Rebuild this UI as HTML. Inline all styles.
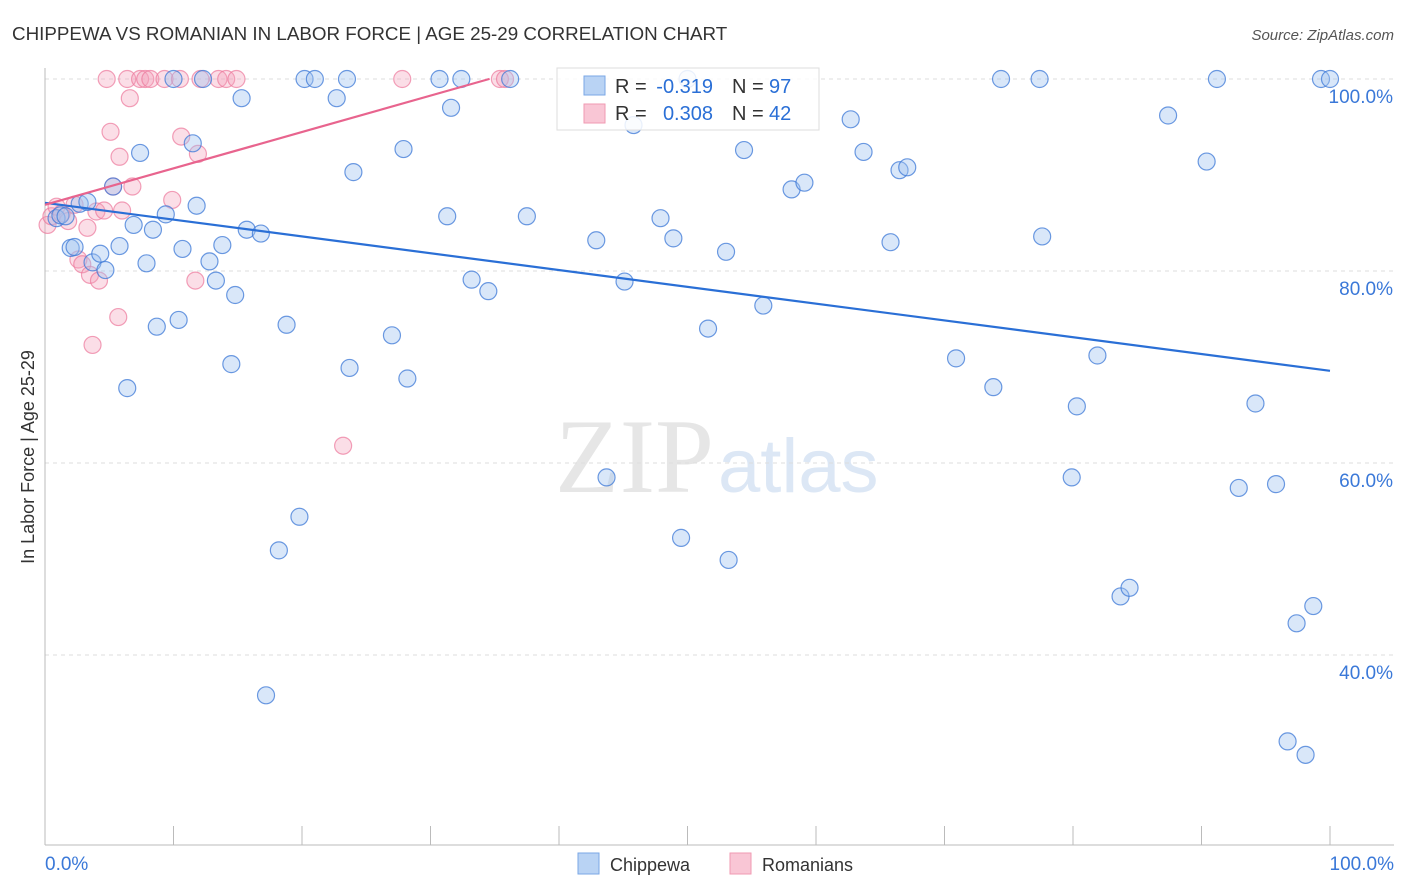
<!DOCTYPE html>
<html><head><meta charset="utf-8"><style>
body{margin:0;background:#fff;font-family:"Liberation Sans",sans-serif}
svg{display:block}
</style></head><body>
<svg id="chart" width="1406" height="892">
<text x="12" y="40" font-size="18.8" fill="#333">CHIPPEWA VS ROMANIAN IN LABOR FORCE | AGE 25-29 CORRELATION CHART</text>
<text x="1394" y="40" font-size="15" fill="#555" font-style="italic" text-anchor="end">Source: ZipAtlas.com</text>
<text x="714" y="492" font-size="106" fill="#e6e6e6" font-family="Liberation Serif" text-anchor="end">ZIP</text>
<text x="718" y="492" font-size="76" fill="#dce7f5">atlas</text>
<text transform="translate(34,457) rotate(-90)" font-size="18" fill="#333" text-anchor="middle">In Labor Force | Age 25-29</text>
<g id="grid"></g><g id="pts"></g><g id="lines"></g>
<rect x="557" y="68" width="262" height="62" fill="rgba(255,255,255,0.85)" stroke="#ddd"/>
<rect x="584" y="76" width="21" height="19" fill="#b9d3f4" stroke="#7aa7e6"/>
<rect x="584" y="104" width="21" height="19" fill="#f9c6d5" stroke="#f09ab2"/>
<g font-size="20">
<text x="615" y="93" fill="#333">R =</text><text x="713" y="93" fill="#2a6fd6" text-anchor="end">-0.319</text>
<text x="732" y="93" fill="#333">N =</text><text x="769" y="93" fill="#2a6fd6">97</text>
<text x="615" y="120" fill="#333">R =</text><text x="713" y="120" fill="#2a6fd6" text-anchor="end">0.308</text>
<text x="732" y="120" fill="#333">N =</text><text x="769" y="120" fill="#2a6fd6">42</text>
</g>
<rect x="578" y="853" width="21" height="21" fill="#b9d3f4" stroke="#7aa7e6"/>
<text x="610" y="871" font-size="18" fill="#333">Chippewa</text>
<rect x="730" y="853" width="21" height="21" fill="#f9c6d5" stroke="#f09ab2"/>
<text x="762" y="871" font-size="18" fill="#333">Romanians</text>
</svg>
<script>
const yTicks=[100,80,60,40];
const xTickLabels=["0.0%","100.0%"];
const chipX=[0.9,1.2,1.6,2.0,2.3,2.7,3.3,3.7,4.3,4.7,5.3,5.8,6.4,6.9,7.4,7.9,8.4,8.7,9.4,10.0,10.4,10.7,11.5,11.8,12.3,12.8,13.3,13.8,14.5,14.8,15.3,15.7,16.8,17.2,18.2,18.8,19.8,20.2,21.0,22.7,23.5,23.7,24.0,27.0,27.9,28.2,30.7,31.3,31.6,32.4,33.2,34.5,36.2,37.5,42.9,43.7,45.1,45.8,47.9,48.9,49.5,50.0,51.6,53.0,53.2,54.4,55.9,58.1,59.1,62.7,63.7,65.8,66.5,67.1,70.9,73.8,74.4,77.4,77.6,79.9,80.3,81.9,83.7,84.4,87.4,90.4,91.2,92.9,94.2,95.8,96.7,97.4,98.1,98.7,99.3,100.0];
const chipY=[85.5,85.8,85.7,82.4,82.5,87.0,87.2,80.9,81.8,80.1,88.8,82.6,67.8,84.8,92.3,80.8,84.3,74.2,85.9,100,74.9,82.3,93.3,86.8,100,81.0,79.0,82.7,70.3,77.5,98.0,84.3,83.9,35.8,50.9,74.4,54.4,100,100,98.0,100,69.9,90.3,73.3,92.7,68.8,100,85.7,97.0,100,79.1,77.9,100,85.7,83.2,58.5,78.9,95.2,85.5,83.4,52.2,100,74.0,82.0,49.9,92.6,76.4,88.5,89.2,95.8,92.4,83.0,90.5,90.8,70.9,67.9,100,100,83.6,58.5,65.9,71.2,46.1,47.0,96.2,91.4,100,57.4,66.2,57.8,31.0,43.3,29.6,45.1,100,100];
const romX=[0.2,0.5,0.9,1.3,1.8,2.3,2.6,2.9,3.3,3.5,3.7,4.0,4.2,4.6,4.8,5.1,5.3,5.7,5.8,6.0,6.4,6.6,6.8,7.4,7.8,8.2,9.3,9.9,10.5,10.6,11.7,11.9,12.1,13.5,14.1,14.9,23.2,27.8,35.4,35.8];
const romY=[84.8,85.7,86.7,86.0,85.2,86.9,81.2,80.7,84.5,79.6,72.3,86.2,79.0,86.3,100,94.5,88.8,75.2,91.9,86.3,100,98.0,88.8,100,100,100,100,87.4,100,94.0,79.0,92.2,100,100,100,100,61.8,100,100,100];
const chipTrend=[87.1,-0.175];
const romTrend=[86.9,0.379];
const romTrendEnd=[34.6];
const x0=45,x1=1330,yTop=79,pxPer=9.6;
const X=v=>x0+(x1-x0)*v/100, Y=v=>yTop+(100-v)*pxPer;
const NS="http://www.w3.org/2000/svg";
function mk(t,a,p){const e=document.createElementNS(NS,t);for(const k in a)e.setAttribute(k,a[k]);p.appendChild(e);return e;}
const g=document.getElementById('grid');
yTicks.forEach(v=>{
 const l=mk('line',{x1:45,x2:1394,y1:Y(v),y2:Y(v),stroke:'#ddd','stroke-dasharray':'4,4'},g);
 
 
 const t=mk('text',{x:1393,y:Y(v)+24,'font-size':19,fill:'#3a78d8','text-anchor':'end'},g);t.textContent=v.toFixed(1)+'%';
 
 
});
const ax=mk('line',{x1:45,x2:45,y1:68,y2:845,stroke:'#bbb'},g);


const bx=mk('line',{x1:45,x2:1394,y1:845,y2:845,stroke:'#bbb'},g);


for(let i=1;i<=10;i++){const tk=mk('line',{x1:X(i*10),x2:X(i*10),y1:826,y2:845,stroke:'#bbb'},g);
 
 }
[[45,'start',0],[1394,'end',1]].forEach(([x,a,i])=>{const t=mk('text',{x:x,y:870,'font-size':19,fill:'#3a78d8','text-anchor':a},g);t.textContent=xTickLabels[i];
 
 });
const p=document.getElementById('pts');
romX.forEach((v,i)=>{const c=mk('circle',{cx:X(v),cy:Y(romY[i]),r:8.5,fill:'rgba(244,160,186,0.35)',stroke:'rgba(236,120,155,0.7)','stroke-width':1.2},p);
 
 });
chipX.forEach((v,i)=>{if(chipY[i]===undefined)return;const c=mk('circle',{cx:X(v),cy:Y(chipY[i]),r:8.5,fill:'rgba(160,195,240,0.4)',stroke:'rgba(60,120,215,0.75)','stroke-width':1.2},p);
 
 });
const L=document.getElementById('lines');
const bl=mk('line',{x1:X(0),y1:Y(chipTrend[0]),x2:X(100),y2:Y(chipTrend[0]+chipTrend[1]*100),stroke:'#2a6fd6','stroke-width':2.2},L);


const xe=romTrendEnd[0];
const pl=mk('line',{x1:X(0),y1:Y(romTrend[0]),x2:X(xe),y2:Y(romTrend[0]+romTrend[1]*xe),stroke:'#e8648e','stroke-width':2.2},L);


</script>
</body></html>
